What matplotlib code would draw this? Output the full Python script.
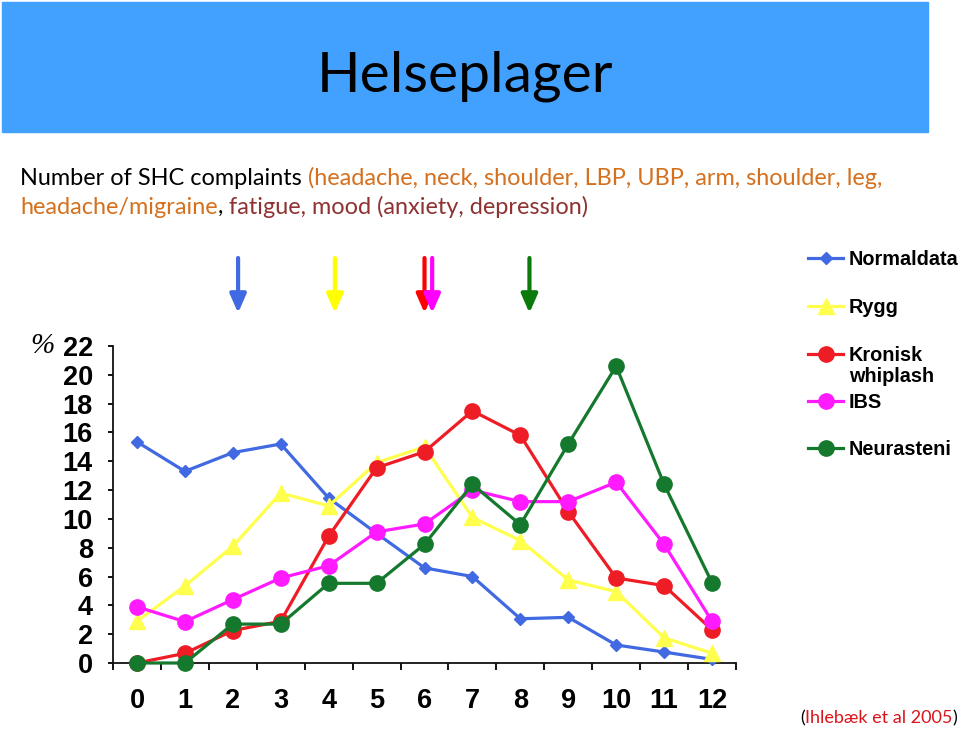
import matplotlib
matplotlib.use("Agg")
import matplotlib.pyplot as plt
from matplotlib.patches import Rectangle
from matplotlib.lines import Line2D
from matplotlib.transforms import blended_transform_factory

# ---------------- data ----------------
categories = list(range(13))
series_names = ["Normaldata", "Rygg", "Kronisk\nwhiplash", "IBS", "Neurasteni"]
normaldata = [15.35, 13.3, 14.6, 15.2, 11.45, 9.0, 6.6, 6.0, 3.07, 3.17, 1.25, 0.76, 0.25]
rygg = [2.9, 5.35, 8.1, 11.8, 10.9, 13.9, 15.0, 10.1, 8.5, 5.76, 4.95, 1.75, 0.67]
kronisk = [0.0, 0.67, 2.25, 2.9, 8.8, 13.55, 14.66, 17.5, 15.8, 10.5, 5.9, 5.37, 2.3]
ibs = [3.9, 2.87, 4.4, 5.9, 6.75, 9.1, 9.65, 12.0, 11.2, 11.2, 12.55, 8.24, 2.9]
neurasteni = [0.0, 0.0, 2.7, 2.7, 5.53, 5.53, 8.24, 12.4, 9.6, 15.2, 20.6, 12.4, 5.57]
arrow_means = [2.11, 4.13, 6.0, 6.16, 8.19]
y_ticks = list(range(0, 23, 2))

title = "Helseplager"
line1 = [("Number of SHC complaints", "#000000"),
         (" (headache, neck, shoulder, LBP, UBP, arm, shoulder, leg,", "#D4701E")]
line2 = [("headache/migraine", "#D4701E"), (",", "#000000"),
         (" fatigue, mood (anxiety, depression)", "#8E3232")]
cite = [("(", "#000000"), ("Ihlebæk et al 2005", "#D9141B"), (")", "#000000")]

# ---------------- styles ----------------
colors = ["#4169E1", "#FFFF4D", "#EE1C25", "#FF1AFF", "#14782D"]
arrow_colors = ["#4169E1", "#FFFF00", "#FF0000", "#FF00FF", "#0A7A0A"]
markers = ["D", "^", "o", "o", "o"]
msizes = [6.5, 11, 11, 11, 11]

W, H = 960, 730
fig = plt.figure(figsize=(W / 100, H / 100), dpi=100)
renderer = fig.canvas.get_renderer()

def fx(px):
    return px / W

def fy(py):
    return 1 - py / H

# banner
fig.patches.append(Rectangle((fx(2), fy(132)), fx(926), 130 / H,
                             transform=fig.transFigure, color="#42A1FF", zorder=0))

TFONT = ["Lato", "DejaVu Sans"]

def fit_size(text, family, target_px, weight="normal"):
    t = fig.text(0, 0, text, fontsize=20, family=family, weight=weight)
    w = t.get_window_extent(renderer).width
    t.remove()
    return 20 * target_px / w

def draw_pieces(pieces, x_px, base_px, size, family):
    x = x_px
    for s, c in pieces:
        t = fig.text(fx(x), fy(base_px), s, color=c, fontsize=size, family=family,
                     ha="left", va="baseline")
        bb = t.get_window_extent(renderer)
        x += bb.width

# title
ts = fit_size(title, TFONT, 297)
fig.text(fx(465), fy(92), title, fontsize=ts, family=TFONT, ha="center", va="baseline")

# subtitle
full1 = "".join(s for s, _ in line1)
s1 = fit_size(full1, TFONT, 864)
draw_pieces(line1, 20, 185, s1, TFONT)
draw_pieces(line2, 20, 214, s1, TFONT)

# citation
s3 = fit_size("".join(s for s, _ in cite), TFONT, 157)
draw_pieces(cite, 800, 723, s3, TFONT)

# ---------------- axes ----------------
ax = fig.add_axes([fx(113), fy(663), fx(623), 317 / H])
ax.set_xlim(-0.5, 12.5)
ax.set_ylim(0, 22)
all_series = [normaldata, rygg, kronisk, ibs, neurasteni]
for i, (vals, c, m, ms) in enumerate(zip(all_series, colors, markers, msizes)):
    ax.plot(categories, vals, color=c, lw=2.3, marker=m, markersize=ms,
            markeredgecolor=c, markerfacecolor=c, clip_on=False, zorder=3 + i)

for sp in ["top", "right"]:
    ax.spines[sp].set_visible(False)
for sp in ["left", "bottom"]:
    ax.spines[sp].set_linewidth(1.3)
    ax.spines[sp].set_color("#111111")

ax.set_xticks(categories)
ax.set_xticklabels([str(c) for c in categories])
ax.set_xticks([c - 0.5 for c in categories] + [12.5], minor=True)
ax.tick_params(axis="x", which="major", length=0, pad=18)
ax.tick_params(axis="x", which="minor", length=5, width=1.3, direction="out")
ax.set_yticks(y_ticks)
ax.set_yticklabels([str(v) for v in y_ticks])
ax.tick_params(axis="y", which="major", length=3.5, width=1.3, pad=11)
for lab in ax.get_xticklabels() + ax.get_yticklabels():
    lab.set_fontfamily(["Liberation Sans", "DejaVu Sans"])
    lab.set_fontweight("bold")
    lab.set_fontsize(19.5)

fig.text(fx(42), fy(346), "%", fontsize=21, family=["Liberation Serif", "DejaVu Serif"],
         style="italic", ha="center", va="center")

# arrows above the plot
tr = blended_transform_factory(ax.transData, fig.transFigure)
for xm, c in zip(arrow_means, arrow_colors):
    ax.annotate("", xy=(xm, fy(313)), xycoords=tr, xytext=(xm, fy(258)), textcoords=tr,
                arrowprops=dict(arrowstyle="-|>,head_length=0.8,head_width=0.35", color=c,
                                lw=3, shrinkA=0, shrinkB=0, mutation_scale=14),
                annotation_clip=False)

# legend (manual)
leg_y = [258, 306, 354, 401, 448]
for name, c, m, ms, y in zip(series_names, colors, markers, msizes, leg_y):
    fig.add_artist(Line2D([fx(808), fx(843)], [fy(y), fy(y)], transform=fig.transFigure,
                          color=c, lw=2.3))
    fig.add_artist(Line2D([fx(825.5)], [fy(y)], transform=fig.transFigure, color=c,
                          marker=m, markersize=ms, markeredgecolor=c, markerfacecolor=c))
    fig.text(fx(849), fy(y - 8), name, fontsize=14.3, weight="bold",
             family=["Liberation Sans", "DejaVu Sans"], ha="left", va="top",
             linespacing=1.12)

fig.savefig("out.png", dpi=100)
